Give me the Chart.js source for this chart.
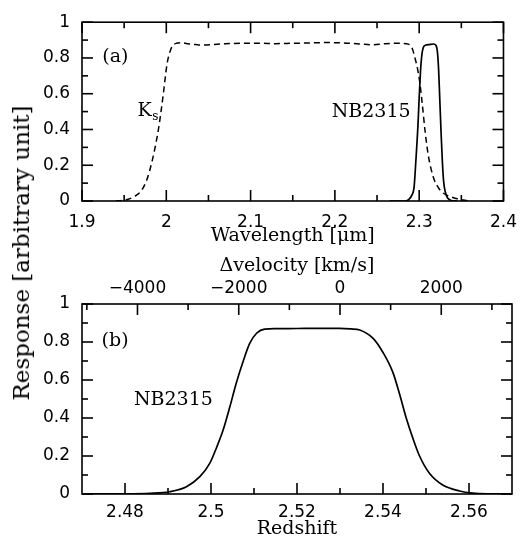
<!DOCTYPE html>
<html><head><meta charset="utf-8">
<script src="https://cdn.jsdelivr.net/npm/chart.js@4.4.1/dist/chart.umd.min.js"></script>
<style>
html,body{margin:0;padding:0;background:#fff;}
#wrap{position:relative;width:528px;height:540px;overflow:hidden;}
#c1{position:absolute;left:0;top:0;width:528px;height:250px;}
#c2{position:absolute;left:0;top:250px;width:528px;height:290px;}
#ylab{position:absolute;left:21px;top:253px;transform:translate(-50%,-50%) rotate(-90deg);font-family:"DejaVu Serif";font-size:23px;white-space:nowrap;color:#000;}
</style></head>
<body><div id="wrap">
<canvas id="c1" width="528" height="250"></canvas>
<canvas id="c2" width="528" height="290"></canvas>
<div id="ylab">Response [arbitrary unit]</div>
</div>
<script>
// ---- data (panel a: wavelength in micron) ----
const ksWave = [1.940,1.948,1.955,1.962,1.970,1.977,1.983,1.988,1.991,1.994,1.9965,1.999,2.001,2.004,2.007,2.012,2.018,2.025,2.035,2.045,2.055,2.07,2.09,2.11,2.13,2.15,2.17,2.19,2.21,2.23,2.245,2.26,2.275,2.285,2.289,2.292,2.295,2.298,2.3005,2.3035,2.307,2.311,2.317,2.322,2.327,2.335,2.344,2.352,2.36];
const ksResp = [0,0.003,0.01,0.025,0.055,0.12,0.22,0.33,0.41,0.51,0.60,0.70,0.77,0.83,0.865,0.882,0.885,0.88,0.875,0.872,0.875,0.88,0.882,0.882,0.88,0.882,0.884,0.886,0.884,0.878,0.874,0.88,0.882,0.88,0.872,0.85,0.80,0.74,0.67,0.55,0.39,0.25,0.13,0.08,0.05,0.028,0.014,0.005,0];
const nbWave = [2.265,2.284,2.288,2.291,2.294,2.296,2.2985,2.300,2.3015,2.303,2.305,2.308,2.312,2.317,2.320,2.3215,2.323,2.3245,2.326,2.3275,2.329,2.331,2.334,2.338,2.345];
const nbResp = [0,0,0.01,0.03,0.08,0.22,0.42,0.58,0.72,0.81,0.86,0.872,0.875,0.878,0.87,0.84,0.74,0.56,0.38,0.22,0.11,0.05,0.015,0.003,0];
// ---- data (panel b: redshift) ----
const nbZ = [2.470,2.478,2.4858,2.4904,2.4943,2.4974,2.4997,2.5013,2.5028,2.5044,2.5059,2.5075,2.509,2.5106,2.5125,2.515,2.52,2.525,2.5299,2.5325,2.5346,2.5377,2.54,2.5423,2.5439,2.5454,2.547,2.5485,2.5508,2.5539,2.5578,2.5609,2.565,2.570];
const nbZResp = [0,0.001,0.004,0.012,0.038,0.091,0.161,0.245,0.335,0.46,0.585,0.70,0.793,0.846,0.868,0.870,0.871,0.872,0.872,0.869,0.863,0.819,0.745,0.64,0.522,0.40,0.29,0.20,0.109,0.047,0.016,0.005,0.001,0];
// ---- ticks ----
const waveTicks = [1.9,2.0,2.1,2.2,2.3,2.4];
const waveLabels = ["1.9","2","2.1","2.2","2.3","2.4"];
const waveMinor = [1.95,2.05,2.15,2.25,2.35];
const respTicks = [0,0.2,0.4,0.6,0.8,1];
const respLabels = ["0","0.2","0.4","0.6","0.8","1"];
const respMinor = [0.1,0.3,0.5,0.7,0.9];
const zTicks = [2.48,2.5,2.52,2.54,2.56];
const zLabels = ["2.48","2.5","2.52","2.54","2.56"];
const zMinor = [2.49,2.51,2.53,2.55];
const velTicks = [-4000,-2000,0,2000];
const velLabels = ["\u22124000","\u22122000","0","2000"];
const velMinor = [-5000,-3000,-1000,1000,3000];
const zMin = 2.47, zMax = 2.57, zCenter = 2.53, cLight = 299792.458;

const tickFont = {family:"DejaVu Sans", size:17};
const titleFont = {family:"DejaVu Serif", size:19};

const frameTicks = {
  id:'frameTicks',
  afterDatasetsDraw(chart, args, opts){
    const {ctx, chartArea:a} = chart;
    ctx.save();
    ctx.strokeStyle = '#000';
    ctx.lineWidth = 1.6;
    ctx.strokeRect(a.left, a.top, a.right-a.left, a.bottom-a.top);
    opts.sides.forEach(sd => {
      const sc = chart.scales[sd.scale];
      [[sd.major,11],[sd.minor,6]].forEach(([vals,len]) => {
        vals.forEach(v => {
          const p = sc.getPixelForValue(v);
          ctx.beginPath();
          if (sd.side==='bottom'){ctx.moveTo(p,a.bottom);ctx.lineTo(p,a.bottom-len);}
          else if (sd.side==='top'){ctx.moveTo(p,a.top);ctx.lineTo(p,a.top+len);}
          else if (sd.side==='left'){ctx.moveTo(a.left,p);ctx.lineTo(a.left+len,p);}
          else {ctx.moveTo(a.right,p);ctx.lineTo(a.right-len,p);}
          ctx.stroke();
        });
      });
    });
    ctx.restore();
  }
};

const notes = {
  id:'notes',
  afterDraw(chart, args, opts){
    const {ctx} = chart;
    const xs = chart.scales.x, ys = chart.scales.y;
    ctx.save();
    ctx.fillStyle = '#000';
    opts.items.forEach(it => {
      const px = xs.getPixelForValue(it.x), py = ys.getPixelForValue(it.y);
      ctx.font = it.font;
      ctx.textAlign = 'center';
      ctx.textBaseline = 'middle';
      ctx.fillText(it.text, px, py);
      if (it.sub){
        const w = ctx.measureText(it.text).width;
        ctx.font = it.subFont;
        ctx.textAlign = 'left';
        ctx.fillText(it.sub, px + w/2 + 0.5, py + 6);
      }
    });
    ctx.restore();
  }
};

function dataOf(xs, ys){ return xs.map((x,i)=>({x:x, y:ys[i]})); }

const noGrid = {display:false, drawTicks:false};

function yScale(){
  return {
    type:'linear', position:'left', min:0, max:1,
    afterBuildTicks: s => { s.ticks = respTicks.map(v=>({value:v})); },
    afterFit: s => { s.width = 82; },
    grid:noGrid, border:{display:false},
    ticks:{padding:12, font:tickFont, color:'#000', autoSkip:false, callback:(v,i)=>respLabels[i]}
  };
}

const common = {
  responsive:false, animation:false, events:[], devicePixelRatio:1
};

new Chart(document.getElementById('c1'), {
  type:'line',
  data:{datasets:[
    {data:dataOf(ksWave, ksResp), borderColor:'#000', borderWidth:1.5, borderDash:[6,4], pointRadius:0, cubicInterpolationMode:'monotone', fill:false},
    {data:dataOf(nbWave, nbResp), borderColor:'#000', borderWidth:1.7, pointRadius:0, cubicInterpolationMode:'monotone', fill:false}
  ]},
  options:Object.assign({}, common, {
    layout:{padding:{top:12, right:16, left:0, bottom:0}},
    plugins:{
      legend:{display:false}, tooltip:{enabled:false},
      frameTicks:{sides:[
        {side:'bottom', scale:'x', major:waveTicks, minor:waveMinor},
        {side:'top', scale:'x', major:waveTicks, minor:waveMinor},
        {side:'left', scale:'y', major:respTicks, minor:respMinor},
        {side:'right', scale:'y', major:respTicks, minor:respMinor}
      ]},
      notes:{items:[
        {text:'(a)', x:1.9395, y:0.804, font:'19px "DejaVu Serif"'},
        {text:'K', sub:'s', x:1.9744, y:0.505, font:'19px "DejaVu Serif"', subFont:'12px "DejaVu Serif"'},
        {text:'NB2315', x:2.243, y:0.497, font:'19px "DejaVu Serif"'}
      ]}
    },
    scales:{
      x:{
        type:'linear', position:'bottom', min:1.9, max:2.4,
        afterBuildTicks: s => { s.ticks = waveTicks.map(v=>({value:v})); },
        afterFit: s => { s.height = 49; },
        grid:noGrid, border:{display:false},
        ticks:{padding:11, font:tickFont, color:'#000', autoSkip:false, maxRotation:0, callback:(v,i)=>waveLabels[i]},
        title:{display:true, text:'Wavelength [\u03bcm]', font:titleFont, color:'#000', padding:{top:0, bottom:3}}
      },
      y:yScale()
    }
  }),
  plugins:[frameTicks, notes]
});

new Chart(document.getElementById('c2'), {
  type:'line',
  data:{datasets:[
    {data:dataOf(nbZ, nbZResp), borderColor:'#000', borderWidth:1.7, pointRadius:0, cubicInterpolationMode:'monotone', fill:false}
  ]},
  options:Object.assign({}, common, {
    layout:{padding:{top:0, right:16, left:0, bottom:0}},
    plugins:{
      legend:{display:false}, tooltip:{enabled:false},
      frameTicks:{sides:[
        {side:'bottom', scale:'x', major:zTicks, minor:zMinor},
        {side:'top', scale:'v', major:velTicks, minor:velMinor},
        {side:'left', scale:'y', major:respTicks, minor:respMinor},
        {side:'right', scale:'y', major:respTicks, minor:respMinor}
      ]},
      notes:{items:[
        {text:'(b)', x:2.4777, y:0.803, font:'19px "DejaVu Serif"'},
        {text:'NB2315', x:2.49125, y:0.492, font:'19px "DejaVu Serif"'}
      ]}
    },
    scales:{
      x:{
        type:'linear', position:'bottom', min:zMin, max:zMax,
        afterBuildTicks: s => { s.ticks = zTicks.map(v=>({value:v})); },
        afterFit: s => { s.height = 46; },
        grid:noGrid, border:{display:false},
        ticks:{padding:8, font:tickFont, color:'#000', autoSkip:false, maxRotation:0, callback:(v,i)=>zLabels[i]},
        title:{display:true, text:'Redshift', font:titleFont, color:'#000', padding:{top:0, bottom:0}}
      },
      v:{
        type:'linear', position:'top',
        min:(zMin-zCenter)/(1+zCenter)*cLight, max:(zMax-zCenter)/(1+zCenter)*cLight,
        afterBuildTicks: s => { s.ticks = velTicks.map(v=>({value:v})); },
        afterFit: s => { s.height = 54; },
        grid:noGrid, border:{display:false},
        ticks:{padding:5, font:tickFont, color:'#000', autoSkip:false, maxRotation:0, callback:(v,i)=>velLabels[i]},
        title:{display:true, text:'\u0394velocity [km/s]', font:titleFont, color:'#000', padding:{top:5, bottom:0}}
      },
      y:yScale()
    }
  }),
  plugins:[frameTicks, notes]
});
</script>
</body></html>
